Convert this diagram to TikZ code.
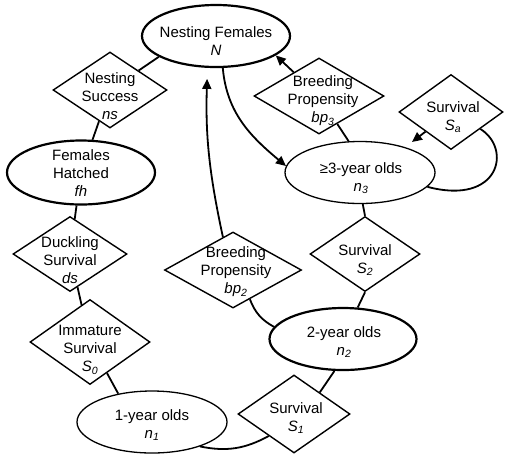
\documentclass[tikz,border=0pt]{standalone}
\usepackage{fontspec}
\setmainfont{Liberation Sans}
\usetikzlibrary{shapes.geometric,arrows.meta}
\begin{document}
\begin{tikzpicture}[x=1pt,y=-1pt,
  ell/.style={ellipse, draw, line width=1.3pt, inner sep=0pt},
  ellthick/.style={ell, line width=2.2pt},
  dia/.style={diamond, draw, line width=1.4pt, inner sep=0pt},
  txt/.style={align=center, inner sep=0pt, font=\fontsize{15}{18}\selectfont},
  con/.style={line width=1.8pt},
  arr/.style={con, -{Triangle[length=10pt,width=9pt]}}]
\useasboundingbox (0,0) rectangle (505,456);

% shapes
\node[ellthick, minimum width=148pt, minimum height=62pt] (NF) at (216,36) {};
\node[dia, minimum width=114pt, minimum height=76pt] (ns) at (110,90) {};
\node[ellthick, minimum width=148pt, minimum height=64pt] (fh) at (81,172.5) {};
\node[dia, minimum width=114pt, minimum height=75pt] (ds) at (70,254) {};
\node[dia, minimum width=120pt, minimum height=85pt] (Imm) at (90,342) {};
\node[ell, minimum width=150pt, minimum height=62pt] (n1) at (152,422) {};
\node[dia, minimum width=112pt, minimum height=78pt] (S1) at (294,414) {};
\node[ellthick, minimum width=147pt, minimum height=62pt] (n2) at (343,339) {};
\node[dia, minimum width=110pt, minimum height=75pt] (S2) at (365,254) {};
\node[ell, minimum width=150pt, minimum height=62pt] (n3) at (360,172.5) {};
\node[dia, minimum width=130pt, minimum height=76pt] (bp3) at (319,96) {};
\node[dia, minimum width=104pt, minimum height=75pt] (Sa) at (451,112) {};
\node[dia, minimum width=137pt, minimum height=76pt] (bp2) at (233,270) {};

% texts
\node[txt] (NFt) at (216,41) {Nesting Females\\\textit{N}};
\node[txt] (nst) at (110,96) {Nesting\\Success\\\textit{ns}};
\node[txt] (fht) at (81,173) {Females\\Hatched\\\textit{fh}};
\node[txt] (dst) at (70,260) {Duckling\\Survival\\\textit{ds}};
\node[txt] (Immt) at (90,350) {Immature\\Survival\\\textit{S}\textsubscript{\textit{0}}};
\node[txt] (n1t) at (152,425) {1-year olds\\\textit{n}\textsubscript{\textit{1}}};
\node[txt] (S1t) at (296,418) {Survival\\\textit{S}\textsubscript{\textit{1}}};
\node[txt] (n2t) at (344,342) {2-year olds\\\textit{n}\textsubscript{\textit{2}}};
\node[txt] (S2t) at (365,260) {Survival\\\textit{S}\textsubscript{\textit{2}}};
\node[txt] (n3t) at (361,178) {≥3-year olds\\\textit{n}\textsubscript{\textit{3}}};
\node[txt] (bp3t) at (323,101) {Breeding\\Propensity\\\textit{bp}\textsubscript{\textit{3}}};
\node[txt] (Sat) at (453,117) {Survival\\\textit{S}\textsubscript{\textit{a}}};
\node[txt] (bp2t) at (236,272) {Breeding\\Propensity\\\textit{bp}\textsubscript{\textit{2}}};

% connectors
\draw[con] (ns) -- (NF.200);
\draw[con] (ns) -- (fh);
\draw[con] (fh) -- (ds);
\draw[con] (ds) -- (Imm);
\draw[con] (Imm) -- (n1.140);
\draw[con] (n1.-27) to[bend right=20] (S1.221);
\draw[con] (S1.40) -- (n2.255);
\draw[con] (S2.south) -- (n2.65);
\draw[con] (n3.-85) -- (S2.north);
\draw[con] (bp3) -- (n3.110);
\draw[arr] (bp3) -- (NF.-18);
\coordinate (saend) at (412,142);
\draw[arr] (Sa) -- (saend);
\draw[con] (Sa.-30) .. controls +(32,20) and +(72,19) .. (n3.-12);
\draw[arr] (NF.-78) to[out=-85,in=140] (n3.175);
\draw[arr, shorten >=11pt] (bp2.107) to[bend left=7] (NF.255);
\draw[con] (bp2.-60) to[bend right=20] (n2.170);
\end{tikzpicture}
\end{document}
